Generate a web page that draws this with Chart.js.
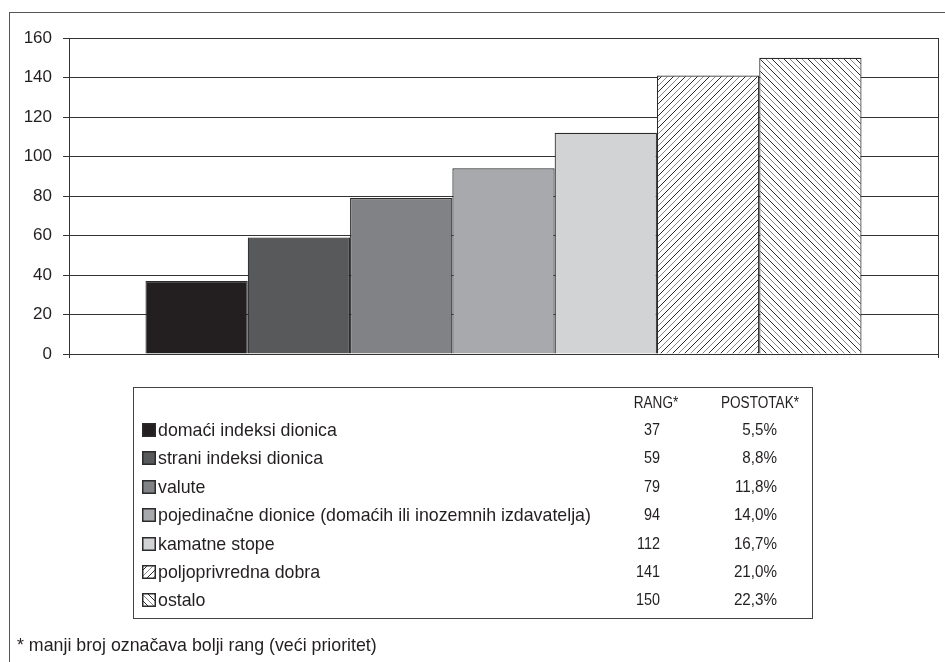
<!DOCTYPE html>
<html><head><meta charset="utf-8">
<script src="https://cdn.jsdelivr.net/npm/chart.js@4.4.1/dist/chart.umd.min.js"></script>
<style>
html,body{margin:0;padding:0;background:#fff;}
body{width:945px;height:662px;position:relative;overflow:hidden;font-family:"Liberation Sans",Arial,sans-serif;color:#231f20;}
#frame{position:absolute;left:9px;top:12px;width:936px;height:650px;border-left:1px solid #555;border-top:1px solid #555;box-sizing:border-box;}
#c{position:absolute;left:0;top:0;}
#legend{position:absolute;left:133px;top:387px;width:680px;height:232px;border:1px solid #444;box-sizing:border-box;}
.t{position:absolute;white-space:nowrap;line-height:20px;height:20px;}
.sw{position:absolute;}
</style></head><body>
<div id="frame"></div>
<canvas id="c" width="945" height="662"></canvas>
<div id="legend"></div>
<div class="t" id="note" style="left:17px;top:635px;font-size:17.8px;"></div>
<script>
// ---- data ----
const seriesNames = [
  'domaći indeksi dionica',
  'strani indeksi dionica',
  'valute',
  'pojedinačne dionice (domaćih ili inozemnih izdavatelja)',
  'kamatne stope',
  'poljoprivredna dobra',
  'ostalo'
];
const rankValues = [37, 59, 79, 94, 112, 141, 150];
const percentLabels = ['5,5%', '8,8%', '11,8%', '14,0%', '16,7%', '21,0%', '22,3%'];
const columnHeaders = ['RANG*', 'POSTOTAK*'];
const yTicks = [0, 20, 40, 60, 80, 100, 120, 140, 160];
const footnote = '* manji broj označava bolji rang (veći prioritet)';

// ---- styles ----
const fills = ['#231f20', '#58595b', '#808285', '#a7a9ac', '#d1d3d4', 'hatchUp', 'hatchDown'];

function makeHatchCanvas(dir) {
  const c = document.createElement('canvas');
  c.width = 12; c.height = 12;
  const g = c.getContext('2d');
  g.fillStyle = '#fff'; g.fillRect(0, 0, 12, 12);
  for (let x = 0; x < 12; x++) {
    for (let y = 0; y < 12; y++) {
      const k = dir === 'up' ? ((x + y) % 12) : (((x - y) % 12) + 12) % 12;
      if (k === 5) { g.fillStyle = '#2a2a2a'; g.fillRect(x, y, 1, 1); }
      else if (k === 11) { g.fillStyle = '#8a8a8a'; g.fillRect(x, y, 1, 1); }
    }
  }
  return c;
}
const mainCtx = document.getElementById('c').getContext('2d');
const hatchUp = mainCtx.createPattern(makeHatchCanvas('up'), 'repeat');
const hatchDown = mainCtx.createPattern(makeHatchCanvas('down'), 'repeat');
function fillFor(i, ctx) {
  if (fills[i] === 'hatchUp') return ctx ? ctx.createPattern(makeHatchCanvas('up'), 'repeat') : hatchUp;
  if (fills[i] === 'hatchDown') return ctx ? ctx.createPattern(makeHatchCanvas('down'), 'repeat') : hatchDown;
  return fills[i];
}

const datasets = seriesNames.map((n, i) => ({
  label: n,
  data: [rankValues[i]],
  backgroundColor: fillFor(i),
  borderColor: '#2b2b2b',
  borderWidth: 1.2,
  barPercentage: 1,
  categoryPercentage: 0.824
}));

Chart.defaults.font.family = '"Liberation Sans", Arial, sans-serif';
Chart.defaults.color = '#231f20';

new Chart(document.getElementById('c'), {
  type: 'bar',
  data: { labels: [''], datasets },
  options: {
    responsive: false,
    animation: false,
    devicePixelRatio: 1,
    layout: { padding: { left: 9, right: 7, top: 38, bottom: 304 } },
    plugins: { legend: { display: false }, tooltip: { enabled: false } },
    scales: {
      x: {
        ticks: { display: false },
        grid: { offset: true, color: '#333', lineWidth: 1, drawTicks: true, tickLength: 4 },
        border: { display: true, color: '#333', width: 1 },
        afterFit: s => { s.height = 4; }
      },
      y: {
        min: 0, max: 160,
        afterBuildTicks: s => { s.ticks = yTicks.map(v => ({ value: v })); },
        ticks: { font: { size: 17 }, padding: 11, color: '#231f20' },
        grid: { color: '#333', lineWidth: 1, drawTicks: true, tickLength: 6 },
        border: { display: true, color: '#333', width: 1 },
        afterFit: s => { s.width = 60; }
      }
    }
  }
});

// ---- legend table (HTML text) ----
const legend = document.getElementById('legend');
function addText(txt, left, top, size, width, align, sx) {
  const d = document.createElement('div');
  d.className = 't';
  d.textContent = txt;
  d.style.left = left + 'px';
  d.style.top = top + 'px';
  d.style.fontSize = size + 'px';
  if (width) { d.style.width = width + 'px'; d.style.textAlign = align; }
  if (sx) {
    d.style.transform = 'scaleX(' + sx + ')';
    d.style.transformOrigin = align === 'right' ? 'right center' : 'center center';
  }
  legend.appendChild(d);
}
addText(columnHeaders[0], 472, 5, 16, 100, 'center', 0.85);
addText(columnHeaders[1], 576, 5, 16, 100, 'center', 0.85);
seriesNames.forEach((n, i) => {
  const cy = 42 + i * 28.4;
  const sw = document.createElement('canvas');
  sw.width = 14; sw.height = 14;
  sw.className = 'sw';
  sw.style.left = '8px';
  sw.style.top = Math.round(cy - 7) + 'px';
  const g = sw.getContext('2d');
  g.fillStyle = fillFor(i, g);
  g.fillRect(0, 0, 14, 14);
  g.strokeStyle = '#2b2b2b';
  g.lineWidth = 1.5;
  g.strokeRect(0.75, 0.75, 12.5, 12.5);
  legend.appendChild(sw);
  addText(n, 24, cy - 10, 17.8);
  addText(String(rankValues[i]), 466, cy - 10, 16, 60, 'right', 0.9);
  addText(percentLabels[i], 563, cy - 10, 16, 80, 'right', 0.95);
});
document.getElementById('note').textContent = footnote;
</script>
</body></html>
